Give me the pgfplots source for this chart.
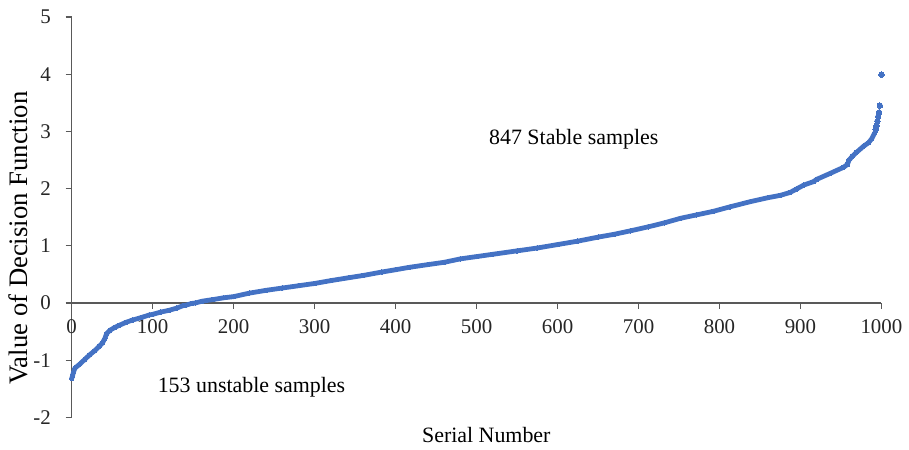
\documentclass[border=0pt]{standalone}
\usepackage{pgfplots}
\pgfplotsset{compat=1.18}
\usepackage{fontspec}
\setmainfont{Liberation Serif}
\definecolor{ptblue}{HTML}{4472C4}
\definecolor{axgray}{HTML}{595959}
\begin{document}
\begin{tikzpicture}
\begin{axis}[
  scale only axis,
  width=406.5pt, height=201pt,
  xmin=0, xmax=1000, ymin=-2, ymax=5,
  axis x line=middle, axis y line=left,
  axis line style={-, axgray, line width=0.6pt},
  tick style={axgray, line width=0.6pt},
  tick align=outside,
  major tick length=3pt,
  hide obscured x ticks=false, hide obscured y ticks=false,
  xtick={0,100,...,1000}, ytick={-2,-1,...,5},
  /pgf/number format/assume math mode=true,
  /pgf/number format/1000 sep={},
  tick label style={font=\fontsize{10.5}{12.5}\selectfont, black!85},
  xticklabel style={yshift=-2pt},
  yticklabel style={anchor=east},
  yticklabel shift=4pt,
  xlabel={Serial Number},
  ylabel={Value of Decision Function},
  xlabel style={at={(axis description cs:0.512,-0.045)}, anchor=center, font=\fontsize{11}{13}\selectfont},
  ylabel style={at={(axis description cs:-0.066,0.448)}, anchor=center, font=\fontsize{13.4}{15}\selectfont},
  clip=false,
]
\addplot[color=ptblue, line width=2.4pt, mark=*, mark size=1.1pt, mark options={fill=ptblue, draw=ptblue, line width=0pt}] coordinates {
(0,-1.32) (1,-1.28) (2,-1.22) (4,-1.14) (10,-1.07) (16,-0.99) (22,-0.91) (28,-0.84)
(34,-0.76) (38,-0.70) (41,-0.62) (43,-0.54) (47,-0.48) (53,-0.43) (59,-0.39) (67,-0.34)
(75,-0.30) (85,-0.26) (96,-0.21) (100,-0.20) (110,-0.16) (120,-0.13) (130,-0.09) (137,-0.05)
(141,-0.04) (148,-0.01) (153,0.00) (161,0.03) (175,0.06) (188,0.09) (200,0.11) (219,0.17)
(240,0.22) (260,0.26) (280,0.30) (300,0.34) (320,0.39) (342,0.44) (360,0.48) (383,0.54)
(400,0.58) (416,0.62) (440,0.67) (460,0.71) (480,0.77) (500,0.81) (520,0.85) (550,0.91)
(575,0.96) (600,1.02) (625,1.08) (650,1.15) (670,1.20) (690,1.26) (712,1.33) (732,1.40)
(752,1.48) (772,1.54) (792,1.60) (813,1.68) (838,1.77) (860,1.84) (875,1.88) (887,1.93)
(895,1.99) (904,2.06) (916,2.12) (920,2.16) (936,2.26) (953,2.37) (958,2.42) (960,2.50)
(964,2.56) (969,2.63) (978,2.74) (984,2.80) (988,2.87) (992,2.98)
};
\addplot[only marks, mark=*, mark size=1.4pt, mark options={fill=ptblue, draw=ptblue, line width=0pt}] coordinates {
(993,3.04) (994,3.10) (995,3.18) (996,3.26) (997,3.33) (998,3.45) (1000,3.99)
};
\node[font=\fontsize{11}{13}\selectfont, anchor=center] at (axis cs:620,2.87) {847 Stable samples};
\node[font=\fontsize{11}{13}\selectfont, anchor=center] at (axis cs:222,-1.47) {153 unstable samples};
\end{axis}
\path (-36pt,-14.5pt) rectangle (418.5pt,209.5pt);
\end{tikzpicture}
\end{document}
